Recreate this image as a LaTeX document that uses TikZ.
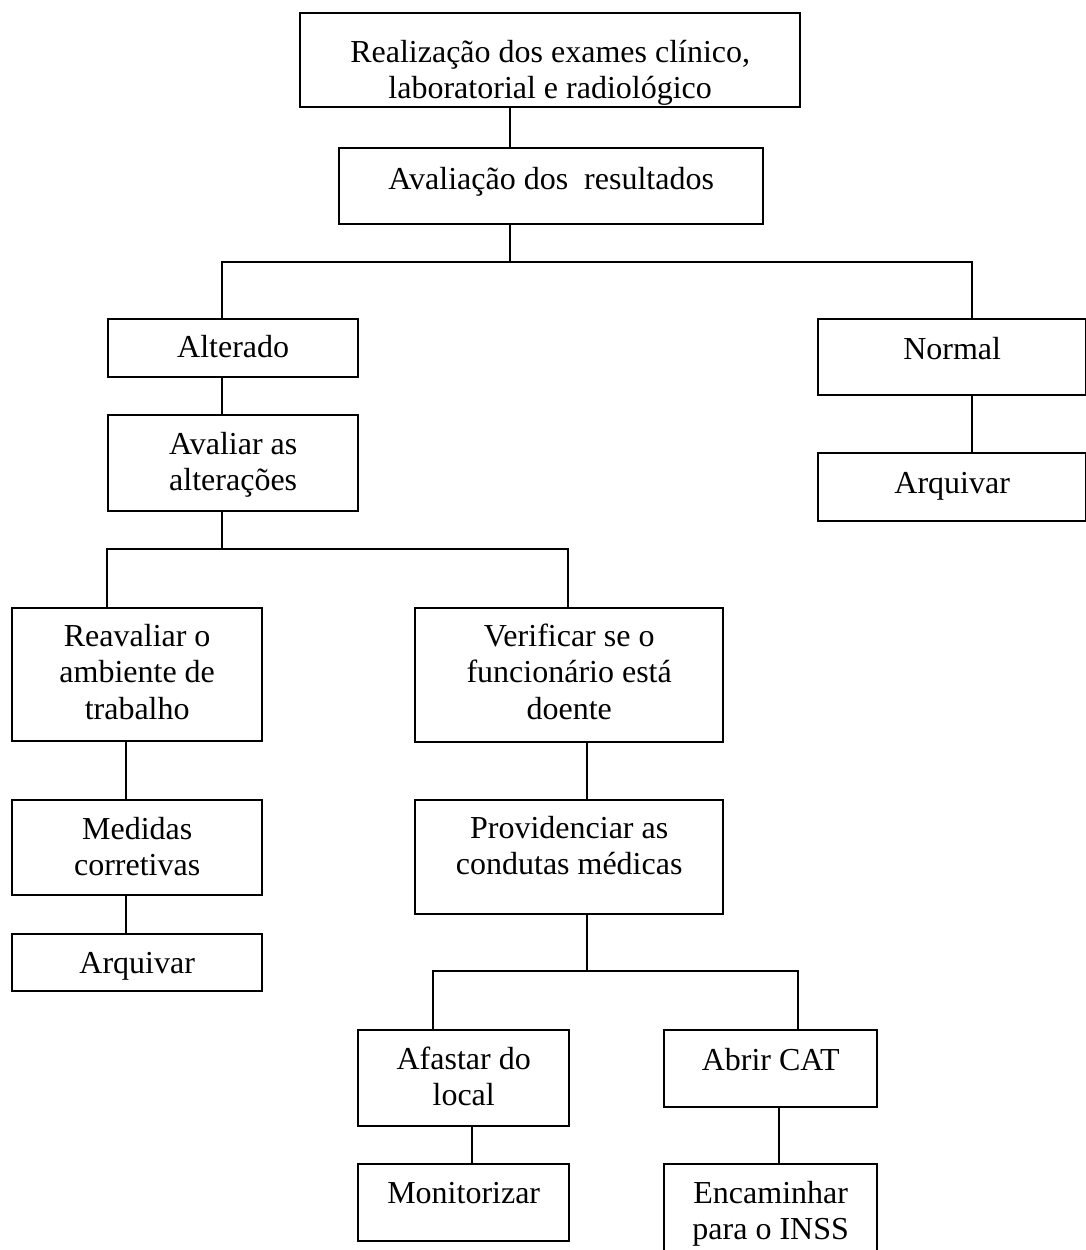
\documentclass[tikz,border=0pt]{standalone}
\usepackage{fontspec}
\setmainfont{Liberation Serif}
\newlength\pxu
\setlength\pxu{0.5pt}
\newcommand\boxtext[4]{\parbox[t][#2\pxu][t]{#1\pxu}{\centering\rule{0pt}{#3\pxu}#4}}
\tikzset{
  stepbox/.style={draw, rectangle, inner sep=0pt, anchor=north west,
    line width=1.2pt, font=\fontsize{16}{18.25}\selectfont},
}
\begin{document}
\begin{tikzpicture}[x=0.5pt, y=-0.5pt]
      \clip (0,0) rectangle (1086,1250);
      \node[stepbox] (top) at (299,12) {\boxtext{500}{94}{49}{Realização dos exames clínico,\\ laboratorial e radiológico}};
      \node[stepbox] (aval) at (338,147) {\boxtext{424}{76}{41}{Avaliação dos~\ resultados}};
      \node[stepbox] (alt) at (107,318) {\boxtext{250}{58}{38}{Alterado}};
      \node[stepbox] (normal) at (817,318) {\boxtext{268}{76}{40}{Normal}};
      \node[stepbox] (arqR) at (817,452) {\boxtext{268}{68}{40}{Arquivar}};
      \node[stepbox] (avaliar) at (107,414) {\boxtext{250}{96}{39}{Avaliar as\\ alterações}};
      \node[stepbox] (reav) at (11,607) {\boxtext{250}{133}{38}{Reavaliar o\\ ambiente de\\ trabalho}};
      \node[stepbox] (verif) at (414,607) {\boxtext{308}{134}{38}{Verificar se o\\ funcionário está\\ doente}};
      \node[stepbox] (medidas) at (11,799) {\boxtext{250}{95}{39}{Medidas\\ corretivas}};
      \node[stepbox] (arqL) at (11,933) {\boxtext{250}{57}{39}{Arquivar}};
      \node[stepbox] (prov) at (414,799) {\boxtext{308}{114}{38}{Providenciar as\\ condutas médicas}};
      \node[stepbox] (afastar) at (357,1029) {\boxtext{211}{96}{39}{Afastar do\\ local}};
      \node[stepbox] (cat) at (663,1029) {\boxtext{213}{77}{40}{Abrir CAT}};
      \node[stepbox] (monit) at (357,1163) {\boxtext{211}{77}{39}{Monitorizar}};
      \node[stepbox] (encam) at (663,1163) {\boxtext{213}{130}{39}{Encaminhar\\ para o INSS}};
      \coordinate (j1) at (510,262);
      \coordinate (j2) at (222,549);
      \coordinate (j3) at (587,971);
      \begin{scope}[line width=1.2pt]
        \draw (top.south -| j1) -- (aval.north -| j1);
        \draw (aval.south -| j1) -- (j1);
        \draw (alt.north -| 222,0) |- (j1) -| (normal.north -| 972,0);
        \draw (normal.south -| 972,0) -- (arqR.north -| 972,0);
        \draw (alt.south -| j2) -- (avaliar.north -| j2);
        \draw (avaliar.south -| j2) -- (j2);
        \draw (reav.north -| 107,0) |- (j2) -| (verif.north -| 568,0);
        \draw (reav.south -| 126,0) -- (medidas.north -| 126,0);
        \draw (medidas.south -| 126,0) -- (arqL.north -| 126,0);
        \draw (verif.south -| j3) -- (prov.north -| j3);
        \draw (prov.south -| j3) -- (j3);
        \draw (afastar.north -| 433,0) |- (j3) -| (cat.north -| 798,0);
        \draw (afastar.south -| 472,0) -- (monit.north -| 472,0);
        \draw (cat.south -| 779,0) -- (encam.north -| 779,0);
      \end{scope}
    \end{tikzpicture}
\end{document}
